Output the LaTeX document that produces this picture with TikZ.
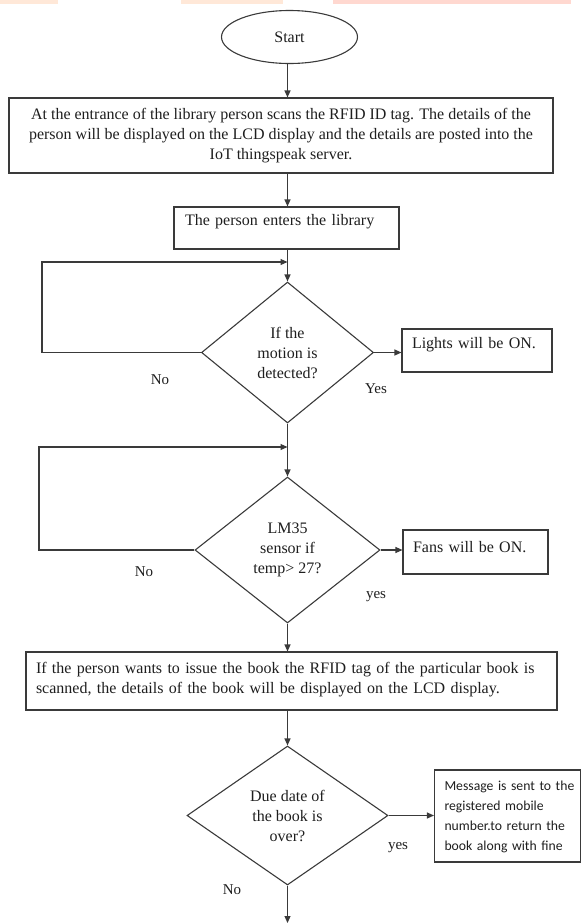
\documentclass[tikz,border=0pt]{standalone}
\usepackage{fontspec}
\setmainfont{Liberation Serif}
\newfontfamily\calfont{Carlito}
\usetikzlibrary{shapes.geometric,arrows.meta}
\definecolor{ln}{HTML}{3A3A3A}
\definecolor{tx}{HTML}{1E1E1E}
\definecolor{peach}{HTML}{FFE8D8}
\definecolor{pinkband}{HTML}{FFD8D0}
\tikzset{
  every node/.style={text=tx},
  conn/.style={draw=ln, line width=1.1pt, -{Triangle[length=7pt,width=6pt]}},
  bodyfont/.style={font=\fontsize{16}{20}\selectfont},
  boxstyle/.style={draw=ln, line width=1.1pt, rectangle, bodyfont, inner ysep=0pt},
  decision/.style={draw=ln, line width=1.1pt, diamond, bodyfont, align=center, inner sep=0pt},
  lbl/.style={font=\fontsize{15}{18}\selectfont, inner sep=0pt}
}
\begin{document}
\begin{tikzpicture}[x=1pt, y=-1pt]
\useasboundingbox (0,0) rectangle (583,924);
% faint top bands
\fill[peach] (0,0) rectangle (58,3.5);
\fill[peach] (181,0) rectangle (283,3.5);
\fill[pinkband] (333,0) rectangle (571,3.5);

\coordinate (X) at (287.5,0);

\node[draw=ln, line width=1.1pt, ellipse, minimum width=136pt, minimum height=53pt, inner sep=0pt, bodyfont] (start) at (289.5,37) {Start};

\node[boxstyle, minimum width=544pt, minimum height=75pt, align=center] (b1) at (281,135.5)
  {At the entrance of the library person scans\ the RFID ID tag. The details of the\\
   person will be displayed\ on the LCD display and the details are posted into the\\
   IoT thingspeak server.};

\node[boxstyle, inner xsep=11pt, text width=203pt, align=left, text height=18pt, text depth=24pt] (b2) at (286.5,228)
  {The person enters the library};

\node[decision, minimum width=172pt, minimum height=141pt] (d1) at (287.5,352.5)
  {If the\\ motion is\\ detected?};

\node[boxstyle, inner xsep=10pt, text width=130pt, align=left, text height=19pt, text depth=24pt] (lights) at (477,350.5)
  {Lights will be ON.};

\node[decision, minimum width=185pt, minimum height=146pt] (d2) at (287.5,550)
  {LM35\\ sensor if\\ temp> 27?};

\node[boxstyle, inner xsep=10pt, text width=125pt, align=left, text height=22pt, text depth=22pt] (fans) at (475.5,552)
  {Fans will be ON.};

\node[boxstyle, inner xsep=10pt, text width=511pt, align=left, text height=21pt, text depth=37pt] (b3) at (291.5,681)
  {If the person wants to issue the book the RFID tag of the particular book is\\
   scanned, the details of the book will be displayed on the LCD\ display.};

\node[decision, minimum width=201pt, minimum height=139pt] (d3) at (287.5,815.5)
  {Due date of\\ the book is\\ over?};

\node[draw=ln, line width=1.1pt, rectangle, inner ysep=0pt, inner xsep=10pt, text width=126pt, align=left,
      font=\calfont\fontsize{13.7}{20}\selectfont, text height=20pt, text depth=72pt] (msg) at (507.5,816)
  {\mbox{Message is sent to the}\\ \mbox{registered mobile}\\ \mbox{number.to return the}\\ \mbox{book along with fine}};

% loop corners, junctions and free end
\coordinate (L1) at (42,262);
\coordinate (j1) at (287.5,262);
\coordinate (L2) at (39,447);
\coordinate (j2) at (287.5,447);
\coordinate (endpt) at (287.5,923);

% connectors
\draw[conn] (start.south -| X) -- (b1.north -| X);
\draw[conn] (b1.south -| X) -- (b2.north -| X);
\draw[conn] (b2.south -| X) -- (d1.north);
\draw[conn] (d1.west) -| (L1) -- (j1);
\draw[conn] (d1.east) -- (d1.east -| lights.west);
\draw[conn] (d1.south) -- (d2.north);
\draw[conn] (d2.west) -| (L2) -- (j2);
\draw[conn] (d2.east) -- (d2.east -| fans.west);
\draw[conn] (d2.south) -- (d2.south |- b3.north);
\draw[conn] (b3.south -| d3.north) -- (d3.north);
\draw[conn] (d3.east) -- (d3.east -| msg.west);
\draw[conn] (d3.south) -- (endpt);

% labels
\node[lbl] (no1) at (160,380) {No};
\node[lbl] (yes1) at (376,389) {Yes};
\node[lbl] (no2) at (144,572) {No};
\node[lbl] (yes2) at (376,597) {yes};
\node[lbl] (yes3) at (398,848) {yes};
\node[lbl] (no3) at (232,890) {No};
\end{tikzpicture}
\end{document}
